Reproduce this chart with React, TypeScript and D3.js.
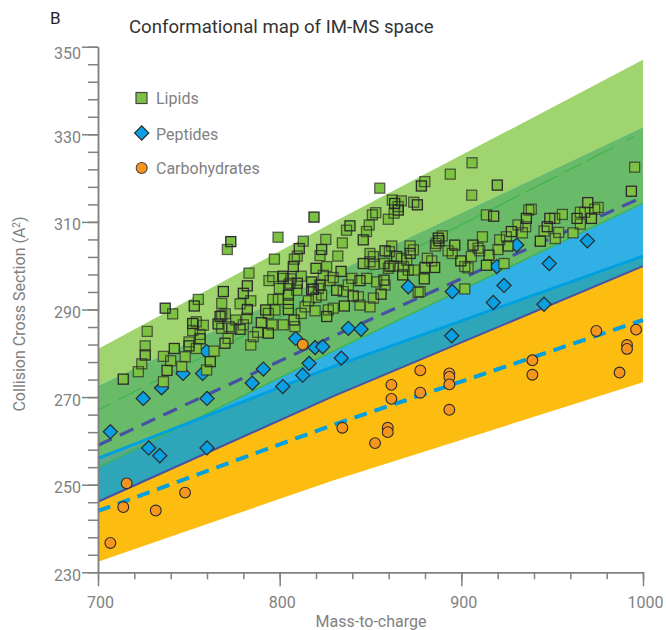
import React, { useEffect, useRef } from 'react';
import * as d3 from 'd3';

type Pt = [number, number];

const bandMz = [700, 829, 1000];
const lipidUpper = [281, 309.8, 347];
const lipidCenter = [267, 294.3, 330.5];
const lipidLower = [253.9, 280.4, 314.3];
const peptideUpper = [272.4, 298, 331.5];
const peptideCenter = [259, 283.8, 315.7];
const peptideLower = [246.1, 270.1, 299.9];
const carbUpper = [256, 276.9, 302.2];
const carbCenter = [244, 263.6, 287.6];
const carbLower = [232.4, 250.9, 273.4];

const lipids: Pt[] = [
  [713.9, 274.1], [722.2, 275.8], [724.1, 277.6], [726, 279.6], [726, 281.7], [727.1, 285], [737, 290.3], [741.1, 289],
  [736, 273.5], [738, 276.1], [736, 279.3], [740, 278.3], [742, 281.1], [746.1, 277], [748, 279.2], [750.1, 281.7],
  [750.1, 282.6], [754.1, 281.1], [756.2, 283.3], [756.2, 284.3], [752.1, 285.2], [752.1, 286.8], [754.1, 287.2], [758, 286.4],
  [753, 290.8], [755.2, 292.3], [763.9, 280.5], [761.8, 278.1], [759.8, 276.2], [768.1, 291.4], [769, 294.1], [768.1, 288.7],
  [770.1, 289], [766.1, 286.7], [768.1, 285.7], [772.1, 286.1], [769.9, 282.3], [771.6, 283.4], [771.2, 303.7], [773.1, 305.5],
  [799.1, 306.5], [813, 305.6], [810.8, 303.9], [809.7, 302.2], [808.1, 301.5], [807.5, 299.8], [797.1, 301.5], [783.1, 298.3],
  [782.2, 295.4], [796.2, 297.5], [794.1, 296.6], [801.8, 297.6], [806.2, 297], [811.9, 297.6], [809.7, 296], [799.8, 294.8],
  [805, 295.6], [780, 293.7], [778.2, 291.3], [784.1, 292], [782.2, 290], [796.2, 292.3], [799.3, 292.3], [804.8, 293.3],
  [809.4, 294.4], [804.8, 291.4], [804.8, 290], [814, 290.6], [811.9, 289.1], [818.5, 294.6], [821.3, 294.8], [819.5, 289.7],
  [792.3, 289.9], [793.8, 289.1], [797.4, 289.9], [767.2, 288.4], [775.8, 287.6], [773.6, 285.7], [778.2, 285.5], [781.9, 288],
  [780, 286.5], [789.9, 287], [795.8, 286.5], [802, 286.5], [807.9, 287.6], [808.4, 286.1], [787.9, 284.8], [793.8, 284.6],
  [785.5, 283.8], [784.1, 281.9], [818.9, 311.1], [851, 311.6], [852.9, 312.1], [865.3, 312.7], [859.8, 310.6], [849.3, 309.3],
  [838.7, 309.1], [836.8, 308.1], [847.8, 307.8], [846, 305.9], [834.5, 305.2], [825.4, 306], [823.1, 303.7], [822.2, 302.3],
  [832, 302.2], [820, 299.4], [825.9, 299.8], [824, 297.8], [833.8, 298.7], [829.5, 297.3], [827.7, 296.6], [822.2, 295.6],
  [823.1, 293.3], [820, 292.8], [831.4, 294.4], [835, 294.1], [839.7, 297.1], [844.2, 296.6], [847.9, 297.1], [853.4, 296.3],
  [857.4, 296.7], [858, 295.6], [837.8, 295.6], [840.5, 293.1], [843.3, 292.9], [851.6, 292.6], [855.8, 293.5], [844.2, 291],
  [849.7, 290.6], [835.6, 290.8], [829.5, 290.3], [826.8, 289.9], [825.9, 288.4], [849.7, 302.8], [851.6, 302.1], [846, 300.5],
  [849.7, 300.9], [851.9, 300.3], [858, 303.4], [860.4, 303.2], [861.7, 304.5], [860.7, 299.9], [862.6, 299.9], [859.8, 299.4],
  [864.4, 302.1], [871.8, 304.5], [873.6, 303.6], [871.8, 302.8], [869.9, 301.3], [868.1, 299.8], [867.7, 297.9], [870.8, 299],
  [874.1, 299], [880, 299.6], [881.3, 301.7], [883.7, 301.1], [879.6, 297], [877.3, 294.1], [886.1, 305.1], [887.3, 306.3],
  [905.9, 323.5], [893.9, 320.9], [919.8, 318.4], [905.7, 316.1], [879.9, 319.2], [878, 318.2], [855.1, 317.7], [995.4, 322.5],
  [993.6, 317], [862, 315], [867, 314.8], [863.3, 314.2], [865.2, 313.5], [873.8, 314.5], [875.8, 313.9], [863, 312],
  [913.8, 311.6], [917.8, 311.3], [938.5, 312.9], [937.1, 312.7], [935.8, 310.8], [935.4, 308.9], [931.2, 309.3], [927.5, 307.8],
  [933.6, 307.5], [924.8, 306.6], [925.7, 304.5], [921.1, 305.9], [911.6, 306.6], [906.4, 304.7], [909.2, 304], [910.1, 303.4],
  [915.2, 302.4], [920.2, 303.7], [905.5, 302.1], [899.7, 301.1], [901.9, 299.8], [903.7, 299.5], [913.8, 300.1], [923.5, 300.5],
  [892.7, 303.4], [896.4, 304.7], [895, 302.8], [889.5, 306.8], [887.7, 305.7], [885.7, 304.5], [901.9, 294.7], [948.7, 310.8],
  [955.6, 311.7], [951.4, 310.8], [947.3, 308.9], [945.5, 307.9], [953.6, 307.6], [943.5, 305.6], [951.7, 306.2], [961.5, 307.5],
  [963.7, 310.8], [965.5, 312.2], [967.9, 312.2], [969.6, 314.4], [975.3, 313.3], [973.4, 312.9], [971.6, 310.8], [965.5, 309.5],
  [867, 301.7], [885.3, 299.6], [857.7, 300.5], [876.2, 293.9], [817.6, 296.3], [802, 297.1], [805.7, 296], [817.6, 294.6], [815.8, 292],
];

const peptides: Pt[] = [
  [706.8, 262.1], [724.9, 269.7], [727.9, 258.4], [734, 256.6], [735, 272.1], [746.8, 275.4], [757.6, 275.4], [760, 269.7],
  [760, 258.4], [759.8, 280.4], [784.9, 273.2], [791, 276.4], [801.7, 272.4], [808.8, 283.4], [812.7, 275], [816.2, 277.7],
  [819.5, 281.3], [823.7, 281.5], [870.8, 295.2], [895, 294.1], [837.8, 285.7], [844.8, 285.5], [816.2, 291.9], [894.7, 284],
  [833.9, 278.9], [969.4, 305.7], [948.4, 300.5], [923.5, 295.5], [917.6, 291.6], [945.5, 291.2], [919.5, 299.8], [930.5, 304.7],
];

const carbs: Pt[] = [
  [706.8, 236.7], [713.9, 244.9], [715.8, 250.3], [731.8, 244.1], [747.9, 248.2], [812.7, 282], [834.5, 263], [852.5, 259.5],
  [859.5, 263], [859.5, 262], [861.5, 272.8], [861.5, 269.6], [877.4, 276.1], [877.4, 271], [893.4, 275.4], [893.4, 274.6],
  [893.4, 272.9], [893.4, 267.1], [939.1, 278.4], [939.1, 275.1], [974.3, 285.1], [987.1, 275.6], [991.2, 281.9], [991.2, 281],
  [996.2, 285.4],
];

const legendItems = ['Lipids', 'Peptides', 'Carbohydrates'];

const App: React.FC = () => {
  const svgRef = useRef<SVGSVGElement | null>(null);

  useEffect(() => {
    const svg = d3.select(svgRef.current);
    svg.selectAll('*').remove();

    const xScale = d3.scaleLinear().domain([700, 1000]).range([98, 643]);
    const yScale = d3.scaleLinear().domain([230, 350]).range([572.3, 46.7]);

    const font = 'Roboto, sans-serif';
    const grey = '#818181';

    const area = (upper: number[], lower: number[]) =>
      d3.area<number>()
        .x(d => xScale(d))
        .y0((d, i) => yScale(lower[i]))
        .y1((d, i) => yScale(upper[i]))(bandMz) as string;
    const line = (vals: number[]) =>
      d3.line<number>()
        .x(d => xScale(d))
        .y((d, i) => yScale(vals[i]))(bandMz) as string;

    const defs = svg.append('defs');
    defs.append('clipPath').attr('id', 'carb-clip').append('path').attr('d', area(carbUpper, carbLower));

    // Bands, painted so that the overlaps get their own colour
    const bands = svg.append('g');
    bands.append('path').attr('d', area(lipidUpper, lipidLower)).attr('fill', '#a0d46f');
    bands.append('path').attr('d', area(peptideUpper, peptideLower)).attr('fill', '#31b0e6');
    bands.append('path').attr('d', area(peptideUpper, lipidLower)).attr('fill', '#69bb6a');
    bands.append('path').attr('d', area(carbUpper, carbLower)).attr('fill', '#fdbd10');
    bands.append('path').attr('d', area(carbUpper, peptideLower)).attr('fill', '#2fa5b9');
    bands.append('path').attr('d', area(peptideUpper, lipidLower)).attr('fill', '#58a98d').attr('clip-path', 'url(#carb-clip)');

    // Fit and edge lines
    const lines = svg.append('g').attr('fill', 'none');
    lines.append('path').attr('d', line(lipidLower)).attr('stroke', '#3fb44f').attr('stroke-width', 1.5);
    lines.append('path').attr('d', line(lipidCenter)).attr('stroke', '#3fb44f').attr('stroke-width', 1.2)
      .attr('stroke-dasharray', '14 9 26 9 40 6 370 5 36 8 20 6 30');
    lines.append('path').attr('d', line(carbUpper)).attr('stroke', '#00a0e0').attr('stroke-width', 3);
    lines.append('path').attr('d', line(peptideLower)).attr('stroke', '#4751a3').attr('stroke-width', 2);
    lines.append('path').attr('d', line(peptideCenter)).attr('stroke', '#4751a3').attr('stroke-width', 3.2)
      .attr('stroke-dasharray', '15 9');
    lines.append('path').attr('d', line(carbCenter)).attr('stroke', '#00a0e0').attr('stroke-width', 4)
      .attr('stroke-dasharray', '13 8');

    // Axes
    const drawAxis = (axis: d3.Axis<d3.NumberValue>, transform: string) => {
      const g = svg.append('g').attr('transform', transform).call(axis as any);
      g.selectAll('path,line').attr('stroke', grey).attr('stroke-width', 1.5);
      g.selectAll('text').attr('fill', grey).attr('font-family', font).attr('font-size', 16);
      return g;
    };
    drawAxis(
      d3.axisLeft(yScale).tickValues(d3.range(230, 351, 4)).tickSize(10).tickSizeOuter(0).tickFormat(() => ''),
      'translate(98,0)',
    );
    const yMajor = drawAxis(
      d3.axisLeft(yScale).tickValues(d3.range(230, 351, 20)).tickSize(16).tickSizeOuter(0).tickPadding(1),
      'translate(98,0)',
    );
    yMajor.selectAll('text').attr('dy', (d: any) => (d === 350 ? '0.72em' : '0.5em'));
    drawAxis(
      d3.axisBottom(xScale).tickValues(d3.range(700, 1001, 20)).tickSize(7).tickSizeOuter(0).tickFormat(() => ''),
      'translate(0,572.3)',
    );
    const xMajor = drawAxis(
      d3.axisBottom(xScale).tickValues(d3.range(700, 1001, 100)).tickSize(14).tickSizeOuter(0).tickPadding(10)
        .tickFormat(d3.format('d') as any),
      'translate(0,572.3)',
    );
    xMajor.selectAll('text').attr('dx', 2);

    // Markers: peptides under lipids under carbohydrates
    const diamond = d3.symbol().type(d3.symbolSquare).size(100);
    const stroke = '#2a2a2a';
    svg.append('g').selectAll('path').data(peptides).enter().append('path')
      .attr('d', diamond() as string)
      .attr('transform', d => `translate(${xScale(d[0])},${yScale(d[1])}) rotate(45)`)
      .attr('fill', '#0a9fe2').attr('stroke', stroke).attr('stroke-width', 1.2);

    const lipidFill = svg.append('g');
    const lipidEdge = svg.append('g');
    const sq = 10;
    lipidFill.selectAll('rect').data(lipids).enter().append('rect')
      .attr('x', d => xScale(d[0]) - sq / 2).attr('y', d => yScale(d[1]) - sq / 2)
      .attr('width', sq).attr('height', sq).attr('fill', '#7cc142');
    lipidEdge.selectAll('rect').data(lipids).enter().append('rect')
      .attr('x', d => xScale(d[0]) - sq / 2).attr('y', d => yScale(d[1]) - sq / 2)
      .attr('width', sq).attr('height', sq).attr('fill', 'none')
      .attr('stroke', stroke).attr('stroke-width', 1.3).attr('stroke-opacity', (d, i) => (i % 3 === 0 ? 1 : 0.7));

    svg.append('g').selectAll('circle').data(carbs).enter().append('circle')
      .attr('cx', d => xScale(d[0])).attr('cy', d => yScale(d[1])).attr('r', 5.4)
      .attr('fill', '#f7941e').attr('fill-opacity', 0.95).attr('stroke', stroke).attr('stroke-width', 1.1);

    // Legend
    const legend = svg.append('g').attr('font-family', font).attr('font-size', 16).attr('fill', grey);
    const legendY = [98, 134, 168];
    legendItems.forEach((name, i) => {
      legend.append('text').attr('x', 156).attr('y', legendY[i] + 5.5).text(name);
    });
    legend.append('rect').attr('x', 136).attr('y', 92.5).attr('width', 11).attr('height', 11)
      .attr('fill', '#7cc142').attr('stroke', '#444').attr('stroke-width', 1.2);
    legend.append('path').attr('d', diamond() as string).attr('transform', 'translate(141.7,133)  rotate(45)')
      .attr('fill', '#0a9fe2').attr('stroke', stroke).attr('stroke-width', 1.2);
    legend.append('circle').attr('cx', 141.7).attr('cy', 168).attr('r', 5.5)
      .attr('fill', '#f7941e').attr('stroke', '#444').attr('stroke-width', 1.1);

    // Titles
    svg.append('text').attr('x', 50).attr('y', 24).attr('font-family', font).attr('font-size', 17).attr('fill', '#222').text('B');
    svg.append('text').attr('x', 129).attr('y', 33).attr('font-family', font).attr('font-size', 18.6).attr('fill', '#333')
      .text('Conformational map of IM-MS space');
    svg.append('text').attr('x', 371).attr('y', 626.5).attr('text-anchor', 'middle').attr('font-family', font)
      .attr('font-size', 16).attr('fill', grey).text('Mass-to-charge');
    const yLabel = svg.append('text').attr('transform', 'translate(25,314) rotate(-90)').attr('text-anchor', 'middle')
      .attr('font-family', font).attr('font-size', 16).attr('fill', grey);
    yLabel.append('tspan').text('Collision Cross Section (A');
    yLabel.append('tspan').attr('font-size', 10).attr('dy', -5).text('2');
    yLabel.append('tspan').attr('dy', 5).text(')');
  }, []);

  return (
    <svg ref={svgRef} width={666} height={630} style={{ position: 'absolute', left: 0, top: 0, display: 'block' }}></svg>
  );
};

export default App;
